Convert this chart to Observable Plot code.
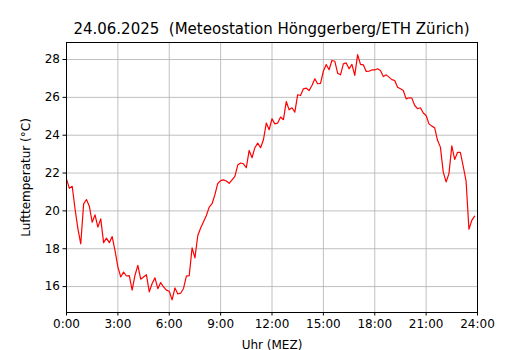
<!DOCTYPE html>
<html><head><meta charset="utf-8">
<script src="https://cdn.jsdelivr.net/npm/d3@7"></script>
<script src="https://cdn.jsdelivr.net/npm/@observablehq/plot@0.6"></script>
<style>
body{margin:0;background:#fff;font-family:"DejaVu Sans",sans-serif;}
#title{width:530px;height:36px;box-sizing:border-box;padding-top:21px;padding-left:13px;text-align:center;font-size:15px;line-height:16px;white-space:pre;color:#000;}
#chart svg{display:block;}
</style></head><body>
<div id="title">24.06.2025  (Meteostation Hönggerberg/ETH Zürich)</div>
<div id="chart"></div>
<script>
// 10-minute readings starting 0:00
const startHour = 0;
const stepMinutes = 10;
const temperatures = [
 21.68,21.19,21.30,20.10,19.05,18.26,20.37,20.60,20.25,19.40,19.79,19.14,
 19.58,18.32,18.56,18.32,18.64,17.90,17.04,16.51,16.77,16.56,16.58,15.81,
 16.60,17.12,16.39,16.51,16.63,15.72,16.16,16.46,15.89,16.21,15.98,15.81,
 15.75,15.30,15.93,15.61,15.65,15.90,16.55,16.58,18.05,17.52,18.70,19.10,
 19.43,19.76,20.20,20.38,20.86,21.45,21.60,21.64,21.58,21.46,21.64,21.82,
 22.42,22.53,22.49,22.28,23.20,22.81,23.34,23.58,23.34,23.76,24.64,24.29,
 24.87,24.60,24.64,24.96,24.82,25.78,25.34,25.45,25.22,26.14,26.10,26.45,
 26.49,26.36,26.63,26.98,26.72,26.74,27.38,27.74,27.46,27.95,27.91,27.28,
 27.19,27.77,27.82,27.51,27.74,27.16,28.26,27.74,27.72,27.37,27.38,27.45,
 27.45,27.51,27.42,27.10,27.19,27.07,26.94,26.89,26.54,26.45,26.36,25.92,
 25.98,25.96,25.57,25.40,25.45,25.17,25.04,24.60,24.48,24.39,23.73,23.37,
 22.05,21.53,21.97,23.44,22.72,23.09,23.09,22.35,21.58,19.03,19.50,19.72
];
const xTicks = [0,3,6,9,12,15,18,21,24];
const xTickLabels = ["0:00","3:00","6:00","9:00","12:00","15:00","18:00","21:00","24:00"];
const yTicks = [16,18,20,22,24,26,28];
const titleText = "24.06.2025  (Meteostation Hönggerberg/ETH Zürich)";
const xLabel = "Uhr (MEZ)";
const yLabel = "Lufttemperatur (°C)";

const data = temperatures.map((t, i) => ({h: startHour + i * stepMinutes / 60, t}));

const chart = Plot.plot({
  width: 530, height: 314,
  marginTop: 6, marginBottom: 38, marginLeft: 66, marginRight: 53,
  style: {fontFamily: "DejaVu Sans", fontSize: "12px", color: "black", background: "white"},
  x: {domain: [0, 24], ticks: xTicks, tickFormat: d => xTickLabels[xTicks.indexOf(d)],
      label: xLabel, labelArrow: "none", labelAnchor: "center", labelOffset: 36, tickSize: 3.5, tickPadding: 3},
  y: {domain: [14.63, 28.9], ticks: yTicks, label: yLabel, labelArrow: "none", labelAnchor: "center",
      labelOffset: 45, tickSize: 3.5, tickPadding: 3},
  marks: [
    Plot.gridX(xTicks, {stroke: "#b0b0b0", strokeOpacity: 1, strokeWidth: 0.8}),
    Plot.gridY(yTicks, {stroke: "#b0b0b0", strokeOpacity: 1, strokeWidth: 0.8}),
    Plot.line(data, {x: "h", y: "t", stroke: "red", strokeWidth: 1.2}),
    Plot.frame({stroke: "black", strokeWidth: 1})
  ]
});
document.getElementById("title").textContent = titleText;
document.getElementById("chart").appendChild(chart);
</script>
</body></html>
